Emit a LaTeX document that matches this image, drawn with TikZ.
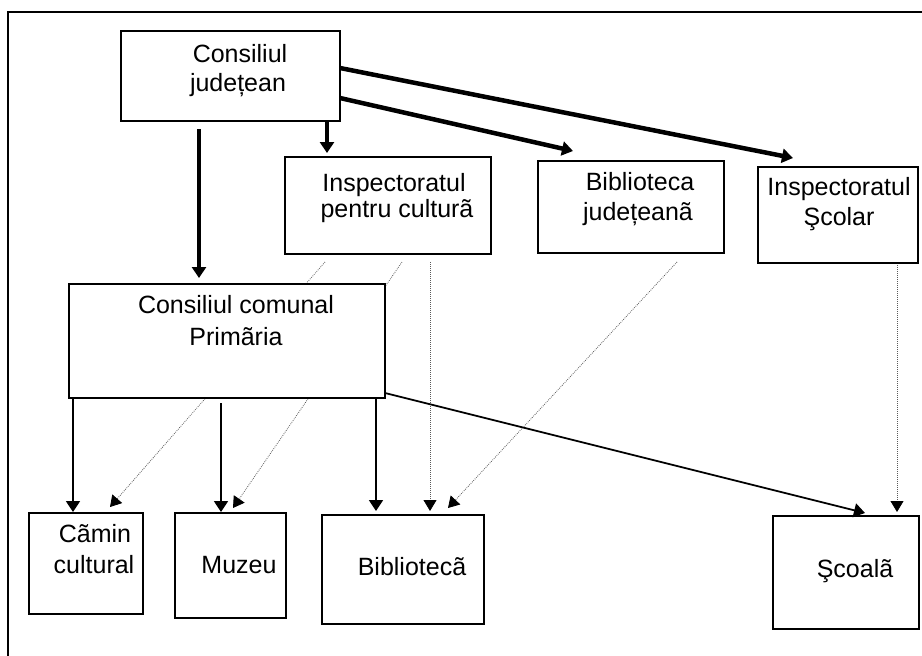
\documentclass[tikz,border=0pt]{standalone}
\usepackage{fontspec}
\setmainfont{Liberation Sans}
\usetikzlibrary{arrows.meta,backgrounds}
\begin{document}
\begin{tikzpicture}[x=1pt,y=-1pt,
  box/.style={draw, line width=1.8pt, fill=white, rectangle, outer sep=0pt, inner sep=0pt, anchor=north west},
  txt/.style={anchor=base, inner sep=0pt, font=\fontsize{25}{30}\selectfont},
  heavyarrow/.style={line width=4.5pt, -{Triangle[length=11pt,width=14pt]}},
  thinarrow/.style={line width=1.8pt, -{Triangle[length=11pt,width=14pt]}},
  dotarrow/.style={draw=gray!70!black, line width=0.8pt, dash pattern=on 0.8pt off 1.2pt,
    -{Triangle[length=11pt,width=13pt,color=black]}}]
\useasboundingbox (0,0) rectangle (922,656);

% outer frame
\draw[line width=2.4pt] (922,12) -- (8,12) -- (8,656);

% boxes (empty nodes; labels are placed line by line below)
\node[box, minimum width=219pt, minimum height=90pt]  (cj)  at (121,31)  {};
\node[box, minimum width=206pt, minimum height=97pt]  (ipc) at (285,157) {};
\node[box, minimum width=186pt, minimum height=92pt]  (bj)  at (538,161) {};
\node[box, minimum width=160pt, minimum height=96pt]  (is)  at (758,167) {};
\node[box, minimum width=316pt, minimum height=114pt] (ccp) at (69,284)  {};
\node[box, minimum width=114pt, minimum height=101pt] (cam) at (29,513)  {};
\node[box, minimum width=111pt, minimum height=105pt] (muz) at (175,513) {};
\node[box, minimum width=162pt, minimum height=109pt] (bib) at (322,515) {};
\node[box, minimum width=146pt, minimum height=113pt] (sco) at (773,516) {};

% labels
\node[txt] (cj1)  at (240,62)  {Consiliul};
\node[txt] (cj2)  at (238,91)  {județean};
\node[txt] (ipc1) at (394,191) {Inspectoratul};
\node[txt] (ipc2) at (397,217) {pentru culturã};
\node[txt] (bj1)  at (640,190) {Biblioteca};
\node[txt] (bj2)  at (638,220) {județeanã};
\node[txt] (is1)  at (839,195) {Inspectoratul};
\node[txt] (is2)  at (839,225) {Şcolar};
\node[txt] (ccp1) at (236,313) {Consiliul comunal};
\node[txt] (ccp2) at (236,345) {Primãria};
\node[txt] (cam1) at (95,542)  {Cãmin};
\node[txt] (cam2) at (94,573)  {cultural};
\node[txt] (muz1) at (239,573) {Muzeu};
\node[txt] (bib1) at (412,575) {Bibliotecã};
\node[txt] (sco1) at (855,577) {Şcoalã};

% dotted links, kept under the boxes
\begin{pgfonlayer}{background}
\draw[dotarrow] ([xshift=40pt,yshift=-8pt]ipc.south west)  -- ([xshift=81pt,yshift=6pt]cam.north west);
\draw[dotarrow] ([xshift=117pt,yshift=-8pt]ipc.south west) -- ([xshift=58pt,yshift=5pt]muz.north west);
\draw[dotarrow] ([xshift=145pt,yshift=-8pt]ipc.south west) -- ([xshift=108pt,yshift=4pt]bib.north west);
\draw[dotarrow] ([xshift=139pt,yshift=-9pt]bj.south west)  -- ([xshift=126pt,yshift=7pt]bib.north west);
\draw[dotarrow] ([xshift=139pt]is.south west)              -- ([xshift=124pt,yshift=4pt]sco.north west);
\end{pgfonlayer}

% links from the county council
\draw[heavyarrow] ([xshift=78pt,yshift=-8pt]cj.south west) -- ([xshift=130pt,yshift=6pt]ccp.north west);
\draw[heavyarrow] ([xshift=206pt]cj.south west)            -- ([xshift=42pt,yshift=4pt]ipc.north west);
\draw[heavyarrow] ([yshift=-67pt]cj.north east)            -- ([xshift=35pt,yshift=10pt]bj.north west);
\draw[heavyarrow] ([yshift=-37pt]cj.north east)            -- ([xshift=35pt,yshift=9pt]is.north west);

% links from the commune council
\draw[thinarrow] ([xshift=4pt]ccp.south west)              -- ([xshift=44pt,yshift=1pt]cam.north west);
\draw[thinarrow] ([xshift=152pt,yshift=-5pt]ccp.south west) -- ([xshift=46pt,yshift=1pt]muz.north west);
\draw[thinarrow] ([xshift=307pt]ccp.south west)            -- ([xshift=54pt,yshift=4pt]bib.north west);
\draw[thinarrow] ([yshift=5pt]ccp.south east)              -- ([xshift=92pt,yshift=3pt]sco.north west);
\end{tikzpicture}
\end{document}
